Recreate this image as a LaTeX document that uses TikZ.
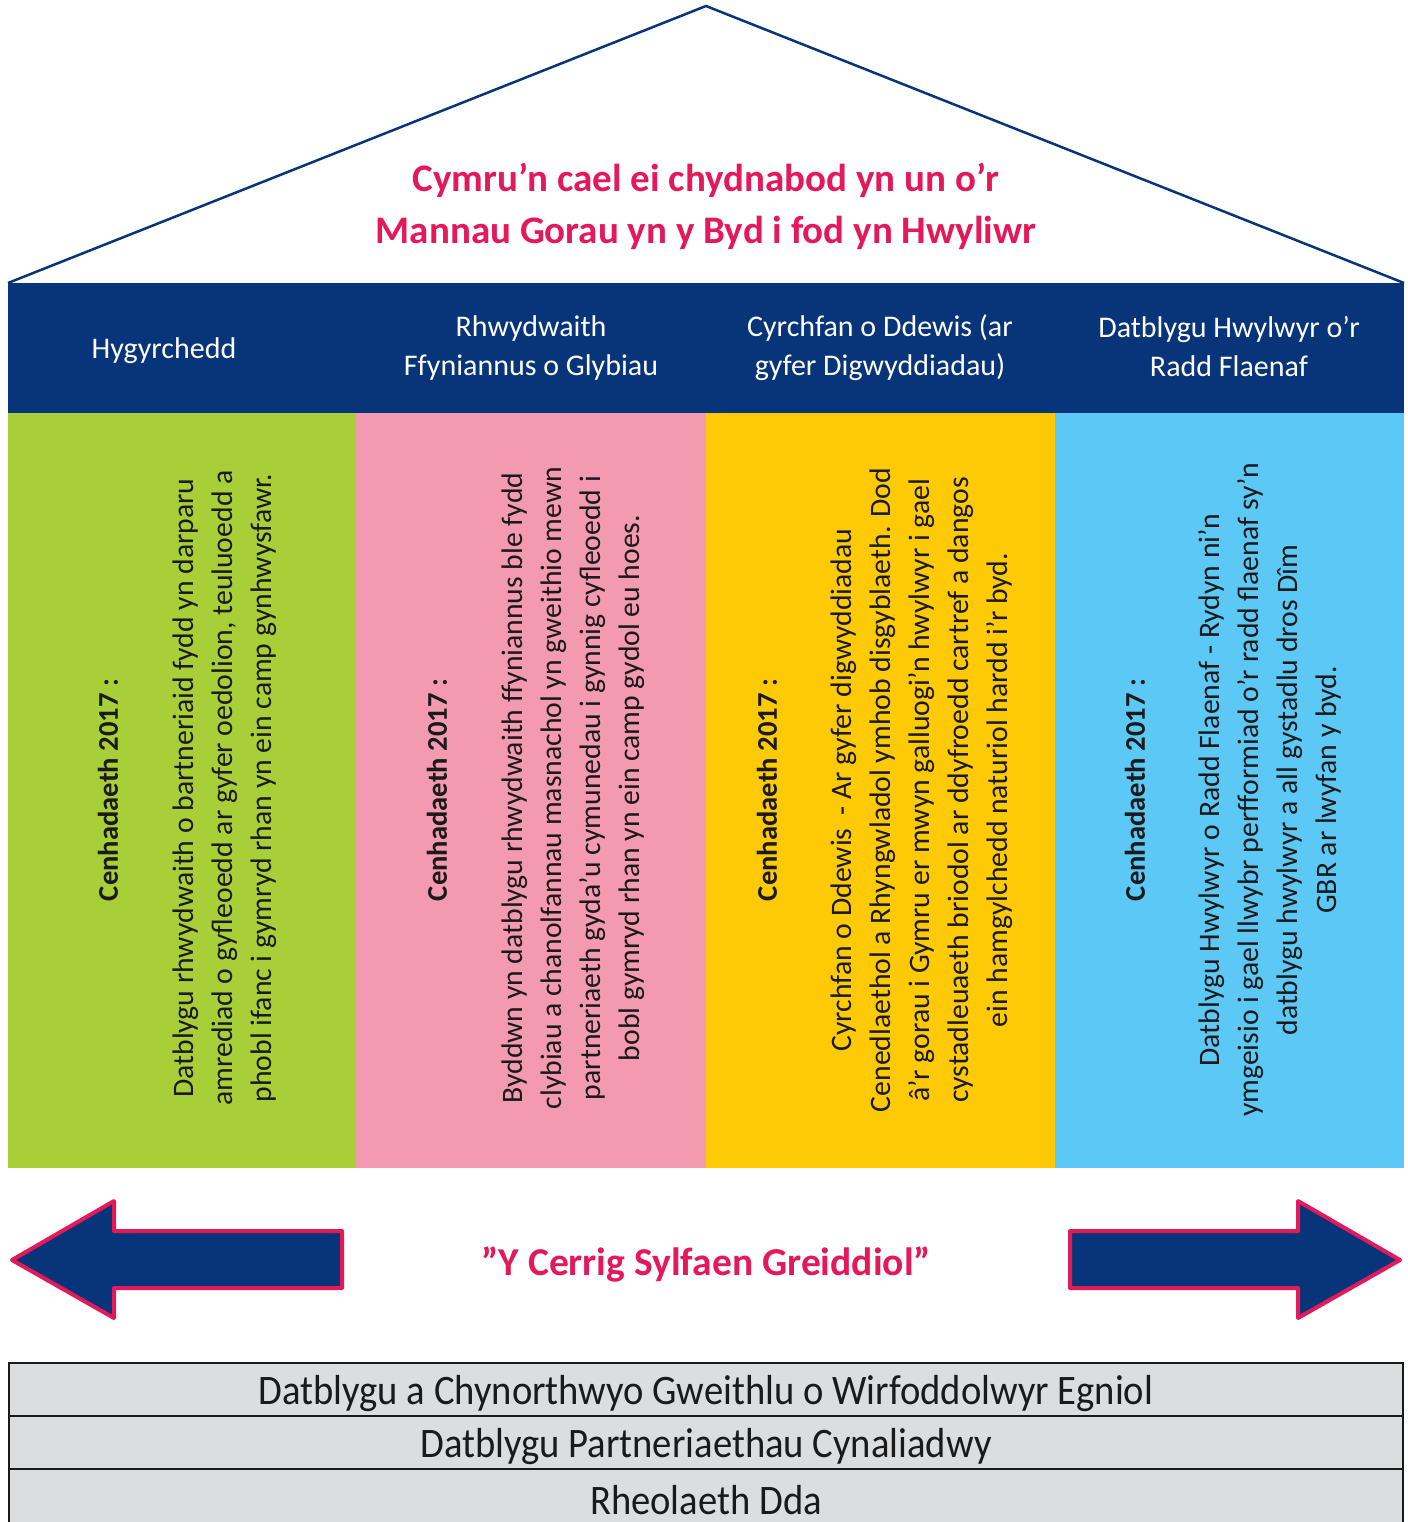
\documentclass[tikz,border=0pt]{standalone}
\usepackage{fontspec}
\setmainfont{Carlito}
\newfontfamily\condfont[FakeStretch=0.92]{Carlito}
\definecolor{navy}{HTML}{08357A}
\definecolor{crim}{HTML}{E3195A}
\definecolor{cgreen}{HTML}{A8CF38}
\definecolor{cpink}{HTML}{F49AB0}
\definecolor{cyellow}{HTML}{FECA06}
\definecolor{cblue}{HTML}{5CC8F5}
\definecolor{bargrey}{HTML}{DCDDDF}
\definecolor{ink}{HTML}{1A1A1A}
\tikzset{
  head/.style={text=white, align=center, font=\fontsize{30}{39}\selectfont},
  colhead/.style={rotate=90, text=ink, font=\bfseries\fontsize{28.6}{39}\selectfont},
  colbody/.style={rotate=90, text=ink, align=center, font=\fontsize{29.7}{39}\selectfont},
  arrowshape/.style={fill=navy, draw=crim, line width=4pt, line join=round},
  barbox/.style={fill=bargrey, draw=ink, line width=2.5pt},
  bartext/.style={text=ink, font=\condfont\fontsize{42}{48}\selectfont},
  redtitle/.style={text=crim, align=center, font=\bfseries\fontsize{39}{52}\selectfont}
}
\begin{document}
\begin{tikzpicture}[x=1pt,y=-1pt]
\useasboundingbox[fill=white] (0,0) rectangle (1407,1522);
% roof
\coordinate (rl) at (8,283);
\coordinate (ra) at (706,6);
\coordinate (rr) at (1404,283);
\draw[navy, line width=2.5pt, line join=miter] (rl) -- (ra) -- (rr);
\node[redtitle] (title) at (706,206) {Cymru’n cael ei chydnabod yn un o’r\\Mannau Gorau yn y Byd i fod yn Hwyliwr};
% header band
\fill[navy] (8,283) rectangle (1404,413);
\node[head] (h1) at (164,351) {Hygyrchedd};
\node[head] (h2) at (531,348) {Rhwydwaith\\Ffyniannus o Glybiau};
\node[head] (h3) at (880,348) {Cyrchfan o Ddewis (ar\\gyfer Digwyddiadau)};
\node[head] (h4) at (1229,347) {Datblygu Hwylwyr o’r\\Radd Flaenaf};
% columns
\fill[cgreen] (8,413) rectangle (356,1168);
\fill[cpink] (356,413) rectangle (706,1168);
\fill[cyellow] (706,413) rectangle (1055,1168);
\fill[cblue] (1055,413) rectangle (1404,1168);
\node[colhead] (c1h) at (108,790) {Cenhadaeth 2017 :};
\node[colhead] (c2h) at (437,790) {Cenhadaeth 2017 :};
\node[colhead] (c3h) at (767,790) {Cenhadaeth 2017 :};
\node[colhead] (c4h) at (1135,790) {Cenhadaeth 2017 :};
\node[colbody] (c1b) at (225,788) {Datblygu rhwydwaith o bartneriaid fydd yn darparu\\amrediad o gyfleoedd ar gyfer oedolion, teuluoedd a\\phobl ifanc i gymryd rhan yn ein camp gynhwysfawr.};
\node[colbody] (c2b) at (573,788) {Byddwn yn datblygu rhwydwaith ffyniannus ble fydd\\clybiau a chanolfannau masnachol yn gweithio mewn\\partneriaeth gyda’u cymunedau i gynnig cyfleoedd i\\bobl gymryd rhan yn ein camp gydol eu hoes.};
\node[colbody] (c3b) at (922,790) {Cyrchfan o Ddewis \ - Ar gyfer digwyddiadau\\Cenedlaethol a Rhyngwladol ymhob disgyblaeth. Dod\\â’r gorau i Gymru er mwyn galluogi’n hwylwyr i gael\\cystadleuaeth briodol ar ddyfroedd cartref a dangos\\ein hamgylchedd naturiol hardd i’r byd.};
\node[colbody] (c4b) at (1270,790) {Datblygu Hwylwyr o Radd Flaenaf - Rydyn ni’n\\ymgeisio i gael llwybr perfformiad o’r radd flaenaf sy’n\\datblygu hwylwyr a all gystadlu dros Dîm\\GBR ar lwyfan y byd.};
% arrows
\draw[arrowshape] (12,1260) -- (114,1201) -- (114,1231) -- (342,1231) -- (342,1288) -- (114,1288) -- (114,1318) -- cycle;
\draw[arrowshape] (1400,1260) -- (1298,1201) -- (1298,1231) -- (1070,1231) -- (1070,1288) -- (1298,1288) -- (1298,1318) -- cycle;
\node[text=crim, font=\bfseries\fontsize{39.5}{44}\selectfont] (core) at (706,1264) {”Y Cerrig Sylfaen Greiddiol”};
% foundation bars
\draw[barbox] (9,1363) rectangle (1403,1416);
\draw[barbox] (9,1416) rectangle (1403,1469);
\draw[barbox] (9,1469) rectangle (1403,1524);
\node[bartext] (b1) at (706,1394) {Datblygu a Chynorthwyo Gweithlu o Wirfoddolwyr Egniol};
\node[bartext] (b2) at (706,1447) {Datblygu Partneriaethau Cynaliadwy};
\node[bartext] (b3) at (706,1500) {Rheolaeth Dda};
\end{tikzpicture}
\end{document}
